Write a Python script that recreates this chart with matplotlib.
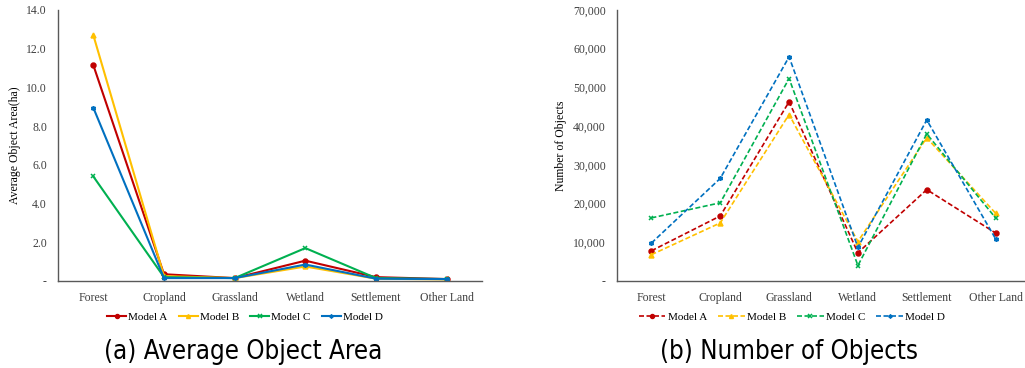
import matplotlib
matplotlib.use("Agg")
import matplotlib.pyplot as plt
from matplotlib.ticker import FuncFormatter

categories = ["Forest", "Cropland", "Grassland", "Wetland", "Settlement", "Other Land"]
models = ["Model A", "Model B", "Model C", "Model D"]

area_a = [11.15, 0.35, 0.15, 1.05, 0.20, 0.10]
area_b = [12.70, 0.25, 0.15, 0.75, 0.12, 0.08]
area_c = [5.40, 0.20, 0.15, 1.70, 0.15, 0.10]
area_d = [8.95, 0.15, 0.15, 0.85, 0.12, 0.10]

count_a = [7800, 16800, 46300, 7300, 23600, 12400]
count_b = [6800, 15000, 43000, 10200, 37000, 17500]
count_c = [16300, 20200, 52300, 4000, 38000, 16300]
count_d = [9800, 26500, 57900, 8700, 41600, 10900]

colors = ["#C00000", "#FFC000", "#00B050", "#0070C0"]
markers = ["o", "^", "x", (6, 2, 0)]
serif = "Liberation Serif"

fig = plt.figure(figsize=(10.25, 3.68), dpi=100)
W, H = 1025, 368

def axes_px(x0, y0, x1, y1):
    return fig.add_axes([x0 / W, 1 - y1 / H, (x1 - x0) / W, (y1 - y0) / H])

ax1 = axes_px(58, 10, 482, 281)
ax2 = axes_px(617, 10, 1030, 281)

xs = list(range(len(categories)))

def style(ax, ymax, step, fmt, ylabel):
    ax.set_xlim(-0.5, len(categories) - 0.5)
    ax.set_ylim(0, ymax)
    ax.set_yticks([i * step for i in range(int(round(ymax / step)) + 1)])
    ax.yaxis.set_major_formatter(FuncFormatter(fmt))
    ax.set_xticks(xs)
    ax.set_xticklabels(categories)
    for s in ["top", "right"]:
        ax.spines[s].set_visible(False)
    for s in ["left", "bottom"]:
        ax.spines[s].set_color("#595959")
        ax.spines[s].set_linewidth(1.0)
    ax.tick_params(length=0, labelsize=8.5, pad=8)
    for lab in ax.get_xticklabels() + ax.get_yticklabels():
        lab.set_fontfamily(serif)
        lab.set_color("#404040")
    ax.set_ylabel(ylabel, fontfamily=serif, fontsize=8.5, color="#000000", labelpad=4)

area = [area_a, area_b, area_c, area_d]
for i, m in enumerate(models):
    ax1.plot(xs, area[i], color=colors[i], marker=markers[i], markersize=3.5,
             markeredgewidth=1.1, linewidth=1.5, label=m)
style(ax1, 14, 2, lambda v, p: "-" if v == 0 else f"{v:.1f}", "Average Object Area(ha)")

count = [count_a, count_b, count_c, count_d]
for i, m in enumerate(models):
    ax2.plot(xs, count[i], color=colors[i], marker=markers[i], markersize=3.5,
             markeredgewidth=1.1, linewidth=1.2, linestyle=(0, (3, 1.5)), label=m)
style(ax2, 70000, 10000, lambda v, p: "-" if v == 0 else f"{int(v):,}", "Number of Objects")

for ax, cx, hl in [(ax1, 245, 1.7), (ax2, 792, 2.4)]:
    handles, labels = ax.get_legend_handles_labels()
    fig.legend(handles, labels, loc="center", bbox_to_anchor=(cx / W, 1 - 317 / H),
               ncol=4, frameon=False, prop={"family": serif, "size": 8},
               handlelength=hl, handletextpad=0.2, columnspacing=1.0,
               markerscale=0.8)

fig.text(243 / W, 1 - 352 / H, "(a) Average Object Area", ha="center", va="center",
         fontsize=18.5, family="DejaVu Sans", fontstretch="condensed", color="#000000")
fig.text(789 / W, 1 - 352 / H, "(b) Number of Objects", ha="center", va="center",
         fontsize=18.5, family="DejaVu Sans", fontstretch="condensed", color="#000000")

fig.savefig("out.png", dpi=100)
